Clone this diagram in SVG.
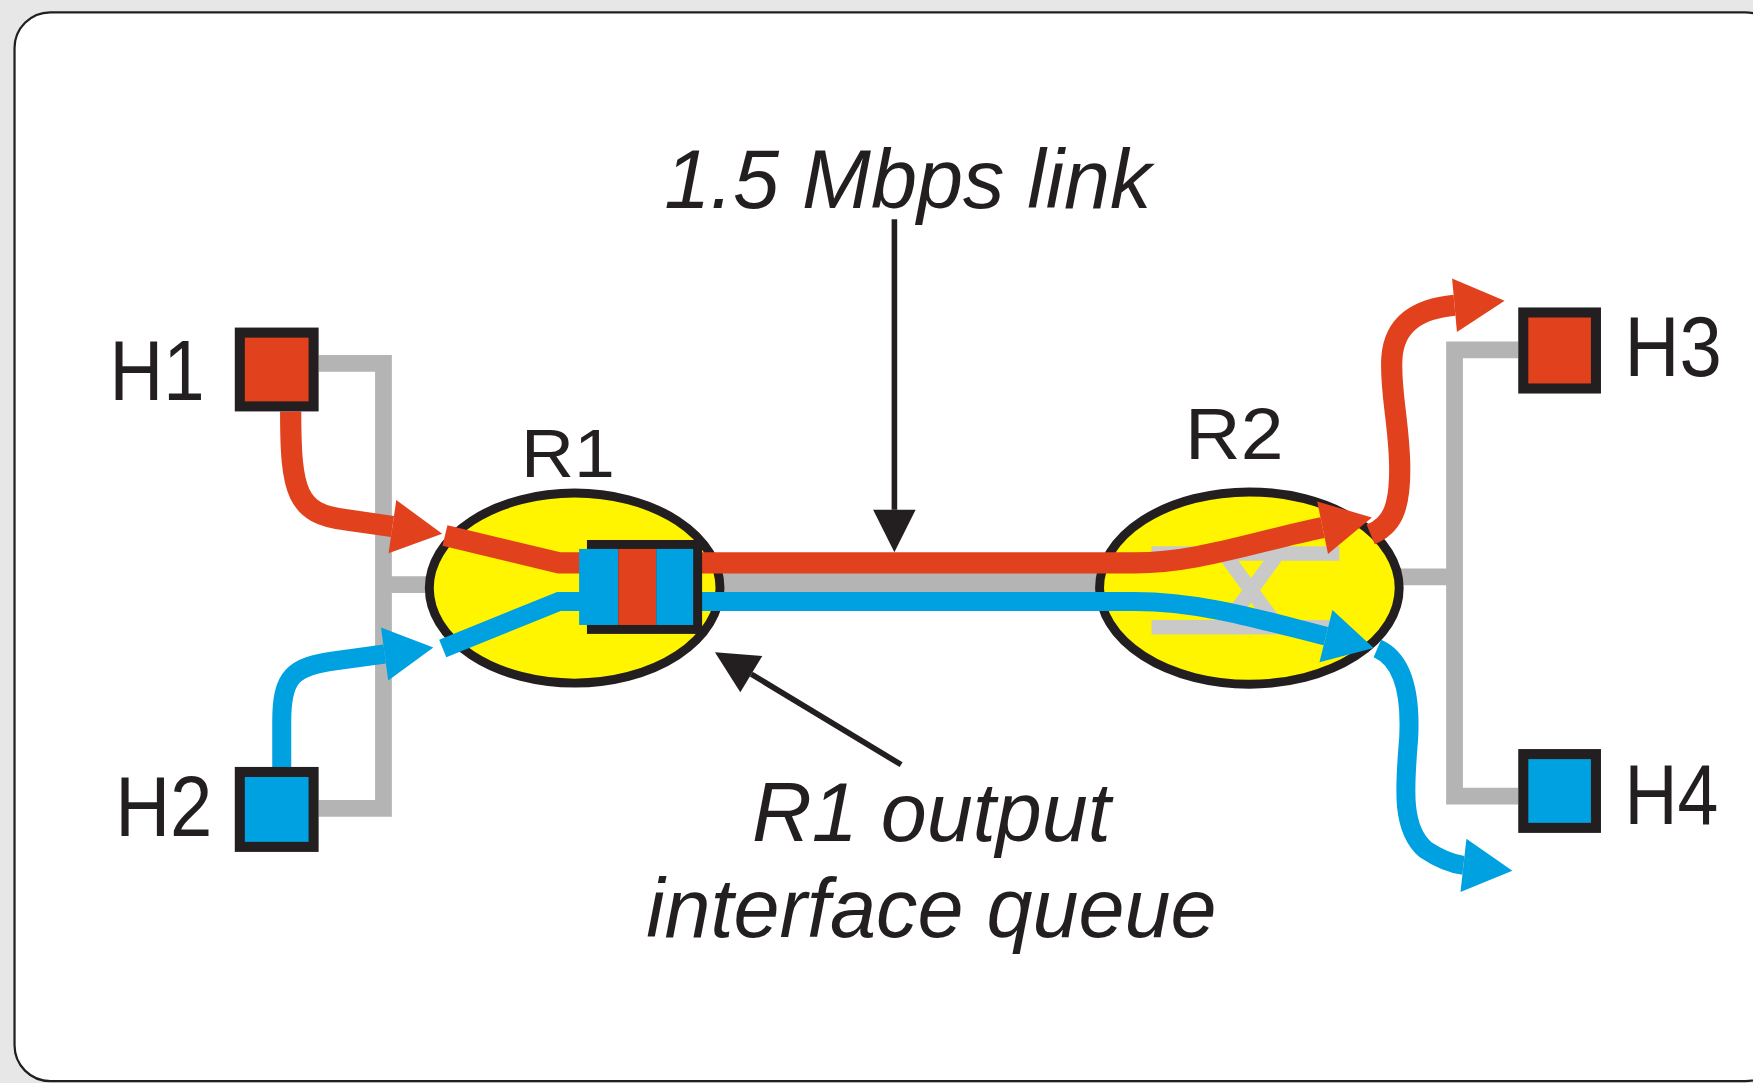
<svg xmlns="http://www.w3.org/2000/svg" width="1753" height="1083" viewBox="0 0 1753 1083">
  <style>
    .wire { fill: none; stroke: #b4b4b4; stroke-width: 15; stroke-linejoin: miter; }
    .router { fill: #fff500; stroke: #231f20; stroke-width: 8; }
    .fab { fill: none; stroke: #c9c9c9; stroke-width: 13; }
    .red { fill: none; stroke: #e2411d; stroke-width: 19; }
    .blue { fill: none; stroke: #00a1e1; stroke-width: 17; }
    .ptr { fill: none; stroke: #231f20; stroke-width: 5; }
    .hred { fill: #e2411d; stroke: #231f20; stroke-width: 9; }
    .hblue { fill: #00a1e1; stroke: #231f20; stroke-width: 9; }
    .lbl { font-family: "Liberation Sans", Arial, sans-serif; fill: #231f20; }
    .it { font-family: "Liberation Sans", Arial, sans-serif; font-style: italic; fill: #231f20; font-size: 74px; text-anchor: middle; }
  </style>
  <defs>
    <marker id="ahRed" markerUnits="userSpaceOnUse" markerWidth="48" markerHeight="48" refX="0" refY="24" orient="auto" overflow="visible">
      <path d="M0,0 L45,24 L0,48 z" fill="#e2411d"/>
    </marker>
    <marker id="ahBlue" markerUnits="userSpaceOnUse" markerWidth="48" markerHeight="48" refX="0" refY="24" orient="auto" overflow="visible">
      <path d="M0,0 L44,24 L0,48 z" fill="#00a1e1"/>
    </marker>
    <marker id="ahBlack" markerUnits="userSpaceOnUse" markerWidth="40" markerHeight="38" refX="0" refY="19" orient="auto" overflow="visible">
      <path d="M0,0 L38,19 L0,38 z" fill="#231f20"/>
    </marker>
  </defs>
  <rect x="0" y="0" width="1753" height="1083" fill="#e7e7e7"/>
  <g transform="scale(1.118)">
    <rect id="frame" x="13" y="11" width="1580" height="956" rx="32" ry="32" fill="#ffffff" stroke="#231f20" stroke-width="2"/>

    <g id="connectors">
      <path class="wire" d="M285,325 H343 V723 H285"/>
      <path class="wire" d="M343,523 H395"/>
      <path class="wire" d="M1358,313 H1301 V712 H1358"/>
      <path class="wire" d="M1245,516 H1301"/>
      <path d="M628,521 H990" stroke="#b4b4b4" stroke-width="18" fill="none"/>
    </g>

    <g id="R1">
      <ellipse class="router" cx="514" cy="526" rx="130" ry="85"/>
      <text class="lbl" x="466" y="427" font-size="62" textLength="84" lengthAdjust="spacingAndGlyphs">R1</text>
    </g>

    <g id="R2">
      <ellipse class="router" cx="1117.5" cy="526" rx="134" ry="86"/>
      <path class="fab" d="M1030,495 H1198 M1030,561 H1198 M1097,498 L1141,558 M1097,558 L1141,498"/>
      <text class="lbl" x="1060" y="411" font-size="64" textLength="88" lengthAdjust="spacingAndGlyphs">R2</text>
    </g>

    <g id="flows">
      <path class="red" d="M260,368 C260,440 265,460 310,465 L351,471" marker-end="url(#ahRed)"/>
      <path class="red" d="M398,479 L500,503.5 L1015,503.5 C1070,503.5 1120,485 1183,472" marker-end="url(#ahRed)"/>
      <path class="red" d="M1226,478 C1245,470 1252,455 1252,420 C1252,380 1243,350 1245,320 C1247,290 1268,276 1301,273" marker-end="url(#ahRed)"/>
      <path class="blue" d="M252,686 L252,645 C252,605 262,596 300,591 L344,585" marker-end="url(#ahBlue)"/>
      <path class="blue" d="M396,580 L500,538 L1015,538 C1075,538 1130,555 1186,569" marker-end="url(#ahBlue)"/>
      <path class="blue" d="M1232,580 C1255,590 1262,620 1260,660 C1257,700 1252,740 1275,760 C1290,770 1300,773 1309,774" marker-end="url(#ahBlue)"/>
    </g>

    <g id="queue">
      <rect x="525" y="483" width="103" height="84" fill="#231f20"/>
      <rect x="518" y="491" width="35" height="68" fill="#00a1e1"/>
      <rect x="553" y="491" width="34" height="68" fill="#e2411d"/>
      <rect x="587" y="491" width="33" height="68" fill="#00a1e1"/>
    </g>

    <g id="H1">
      <rect class="hred" x="214.5" y="297.5" width="66" height="66"/>
      <text class="lbl" x="98" y="358" font-size="76" textLength="85" lengthAdjust="spacingAndGlyphs">H1</text>
    </g>
    <g id="H2">
      <rect class="hblue" x="214.5" y="690.5" width="66" height="67"/>
      <text class="lbl" x="103" y="748" font-size="76" textLength="87" lengthAdjust="spacingAndGlyphs">H2</text>
    </g>
    <g id="H3">
      <rect class="hred" x="1362.5" y="279.5" width="65" height="68"/>
      <text class="lbl" x="1453" y="336" font-size="76" textLength="87" lengthAdjust="spacingAndGlyphs">H3</text>
    </g>
    <g id="H4">
      <rect class="hblue" x="1362.5" y="674.5" width="65" height="66"/>
      <text class="lbl" x="1453" y="737" font-size="76" textLength="84" lengthAdjust="spacingAndGlyphs">H4</text>
    </g>

    <g id="pointers">
      <path class="ptr" d="M800,196 L800,456" marker-end="url(#ahBlack)"/>
      <path class="ptr" d="M806,684 L672,603" marker-end="url(#ahBlack)"/>
    </g>

    <g id="labels">
      <text class="it" x="812" y="186">1.5 Mbps link</text>
      <text class="it" x="833" y="752">R1 output</text>
      <text class="it" x="833" y="838">interface queue</text>
    </g>
  </g>
</svg>
